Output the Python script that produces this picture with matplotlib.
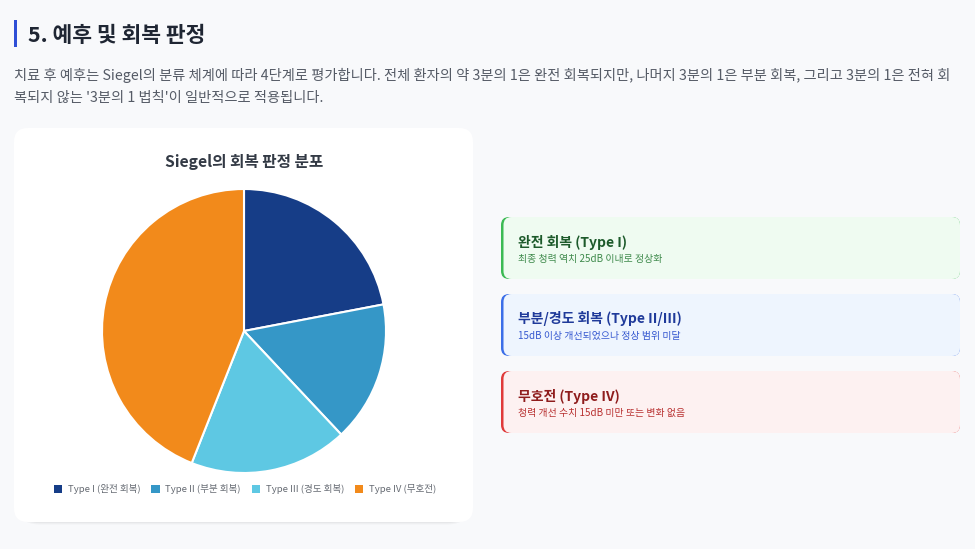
import matplotlib.pyplot as plt
from matplotlib.patches import FancyBboxPatch, Patch

plt.rcParams['font.family'] = ['Noto Sans CJK KR', 'DejaVu Sans']

# data
labels = ['Type I (완전 회복)', 'Type II (부분 회복)', 'Type III (경도 회복)', 'Type IV (무호전)']
values = [22, 16, 18, 44]
colors = ['#163d87', '#3597c7', '#5ec8e3', '#f28a1b']

heading = '5. 예후 및 회복 판정'
para_lines = [
    "치료 후 예후는 Siegel의 분류 체계에 따라 4단계로 평가합니다. 전체 환자의 약 3분의 1은 완전 회복되지만, 나머지 3분의 1은 부분 회복, 그리고 3분의 1은 전혀 회",
    "복되지 않는 '3분의 1 법칙'이 일반적으로 적용됩니다.",
]
chart_title = 'Siegel의 회복 판정 분포'

card_titles = ['완전 회복 (Type I)', '부분/경도 회복 (Type II/III)', '무호전 (Type IV)']
card_texts = ['최종 청력 역치 25dB 이내로 정상화',
              '15dB 이상 개선되었으나 정상 범위 미달',
              '청력 개선 수치 15dB 미만 또는 변화 없음']
card_bg = ['#effbf1', '#eef5fe', '#fdf1f1']
card_edge = ['#3cba54', '#3b6ee8', '#e03a3a']
card_title_col = ['#1d5a2b', '#1f3a9a', '#8f1d1d']
card_text_col = ['#3f8a4c', '#3558d0', '#b83030']

W, H = 975, 549
fig = plt.figure(figsize=(W / 100, H / 100), dpi=100)
fig.patch.set_facecolor('#f8f9fb')

# page axes in pixel coords
bg = fig.add_axes([0, 0, 1, 1])
bg.set_xlim(0, W)
bg.set_ylim(H, 0)
bg.axis('off')

# heading
bg.add_patch(plt.Rectangle((14, 20), 3, 27, color='#2f4fd6', lw=0))
bg.text(28, 35, heading, fontsize=15.5, fontweight='bold', color='#1f2633', va='center')
for i, line in enumerate(para_lines):
    bg.text(14, 75 + i * 23, line, fontsize=10.25, color='#555b66', va='center')

# chart card with faint shadow
for off, a in [(2.5, 0.03), (1.2, 0.04)]:
    bg.add_patch(FancyBboxPatch((14 + 26, 128 + off + 26), 459 - 52, 394 - 52,
                                boxstyle='round,pad=26', fc='#000000', ec='none', alpha=a))
bg.add_patch(FancyBboxPatch((14 + 14, 128 + 14), 459 - 28, 394 - 28,
                            boxstyle='round,pad=14', fc='white', ec='none'))
bg.text(244, 162, chart_title, fontsize=11.3, fontweight='bold', color='#333a45',
        ha='center', va='center')

# info cards
for i in range(3):
    y0 = 217 + i * 77
    bg.add_patch(FancyBboxPatch((501 + 8, y0 + 8), 459 - 16, 62 - 16,
                                boxstyle='round,pad=8', fc=card_edge[i], ec='none'))
    bg.add_patch(FancyBboxPatch((503.5 + 8, y0 + 8), 456.5 - 16, 62 - 16,
                                boxstyle='round,pad=8', fc=card_bg[i], ec='none'))
    bg.text(518, y0 + 25, card_titles[i], fontsize=10, fontweight='bold',
            color=card_title_col[i], va='center')
    bg.text(518, y0 + 42, card_texts[i], fontsize=7.1, color=card_text_col[i], va='center')

# pie
cx, cy, r = 244, 331, 142
ax = fig.add_axes([(cx - 145) / W, (H - cy - 145) / H, 290 / W, 290 / H])
ax.pie(values, colors=colors, startangle=90, counterclock=False, radius=1,
       wedgeprops=dict(edgecolor='white', linewidth=1.5))
ax.set_xlim(-145 / r, 145 / r)
ax.set_ylim(-145 / r, 145 / r)
ax.set_aspect('equal')
ax.axis('off')

handles = [Patch(facecolor=c, edgecolor='none') for c in colors]
fig.legend(handles, labels, loc='center', bbox_to_anchor=(245 / W, 1 - 489 / H),
           ncol=4, frameon=False, fontsize=6.9, labelcolor='#666b73',
           handlelength=0.9, handleheight=0.9, handletextpad=0.6, columnspacing=1.1)

fig.savefig('out.png', dpi=100, facecolor=fig.get_facecolor())
